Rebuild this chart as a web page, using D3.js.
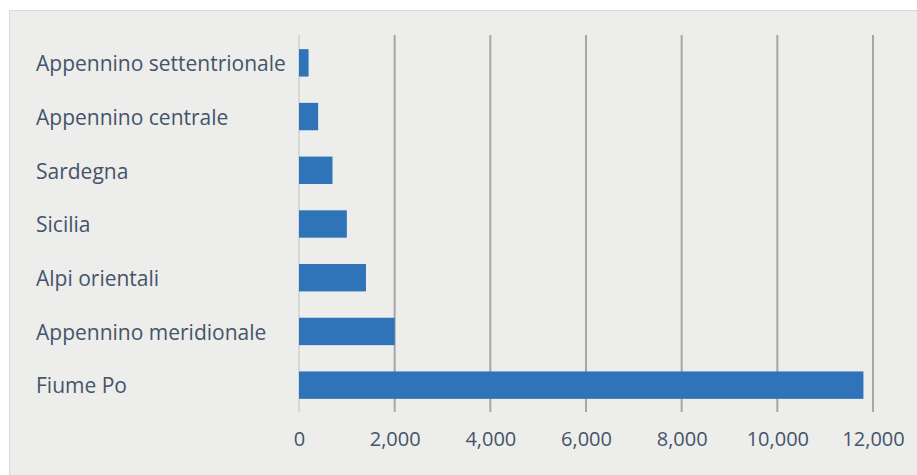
<!DOCTYPE html>
<html>
<head>
<meta charset="utf-8">
<script src="https://cdn.jsdelivr.net/npm/d3@7"></script>
<style>
  html, body { margin: 0; padding: 0; background: #ffffff; }
  svg { display: block; }
</style>
</head>
<body>
<svg id="chart" width="917" height="475"></svg>
<script>
// Categories, top to bottom
const categories = [
  "Appennino settentrionale",
  "Appennino centrale",
  "Sardegna",
  "Sicilia",
  "Alpi orientali",
  "Appennino meridionale",
  "Fiume Po"
];
// Values per category
const values = [200, 400, 700, 1000, 1400, 2000, 11800];
// Axis ticks
const xTicks = [0, 2000, 4000, 6000, 8000, 10000, 12000];

const svg = d3.select("#chart");
const W = 917, H = 475;

// Panel background
svg.append("rect")
  .attr("x", 9.5).attr("y", 10.5)
  .attr("width", W).attr("height", H)
  .attr("fill", "#ededeb")
  .attr("stroke", "#d9d9d7")
  .attr("stroke-width", 1);

const x = d3.scaleLinear().domain([0, 12000]).range([299, 873]);
const y = d3.scaleBand().domain(categories).range([36, 412]).paddingInner(0.49).paddingOuter(0.245);

const font = "'Open Sans', 'DejaVu Sans', sans-serif";
const textColor = "#44546a";

// Vertical gridlines
svg.append("g").selectAll("line")
  .data(xTicks)
  .join("line")
  .attr("x1", d => x(d)).attr("x2", d => x(d))
  .attr("y1", 35).attr("y2", 412)
  .attr("stroke", d => d === 0 ? "#cfcfcd" : "#a6a6a6")
  .attr("stroke-width", d => d === 0 ? 1.5 : 2);

// Bars
svg.append("g").selectAll("rect")
  .data(values)
  .join("rect")
  .attr("x", x(0))
  .attr("y", (d, i) => y(categories[i]))
  .attr("width", d => x(d) - x(0))
  .attr("height", y.bandwidth())
  .attr("fill", "#2f74b8");

// Category axis labels, left-aligned
const yAxis = d3.axisLeft(y).tickSize(0).tickPadding(0);
const gy = svg.append("g").attr("transform", "translate(36,1.5)").call(yAxis);
gy.select(".domain").remove();
gy.selectAll("text")
  .attr("text-anchor", "start")
  .attr("font-family", font)
  .attr("font-size", 21)
  .attr("fill", textColor);

// Value axis labels
const xAxis = d3.axisBottom(x).tickValues(xTicks).tickFormat(d3.format(",")).tickSize(0).tickPadding(0);
const gx = svg.append("g").attr("transform", "translate(0,432)").call(xAxis);
gx.select(".domain").remove();
gx.selectAll("text")
  .attr("font-family", font)
  .attr("font-size", 20)
  .attr("fill", textColor);
</script>
</body>
</html>
